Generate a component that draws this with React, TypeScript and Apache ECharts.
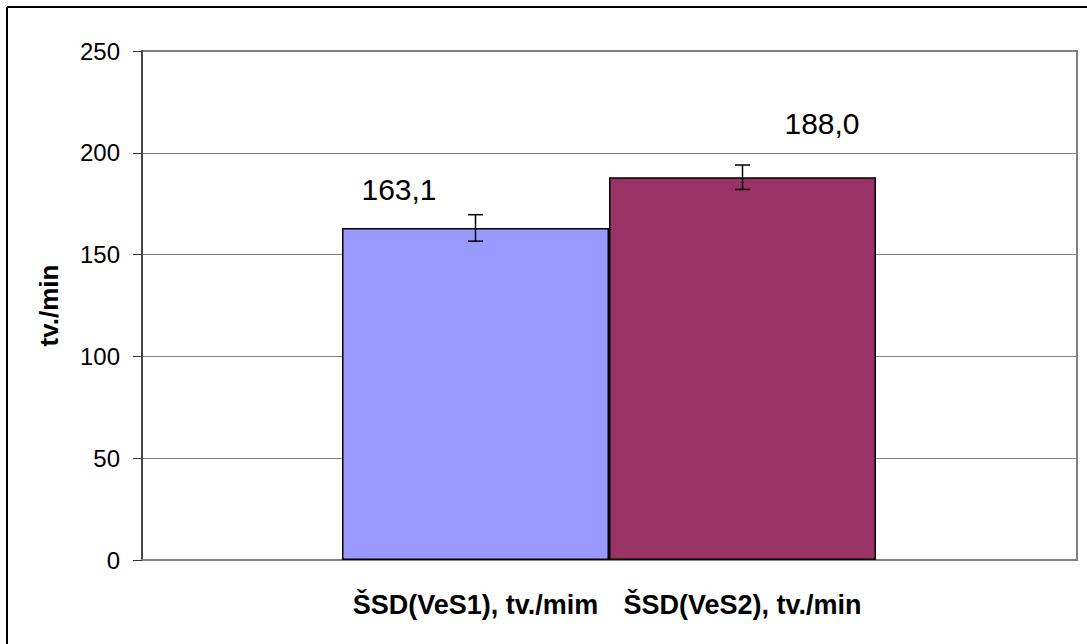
import React, { useEffect, useRef } from "react";
import * as echarts from "echarts";

const categories = ["ŠSD(VeS1), tv./mim", "ŠSD(VeS2), tv./min"];
const means = [163.1, 188.0];
const sds = [6.5, 6.0];
const valueLabels = ["163,1", "188,0"];
const barColors = ["#9999FF", "#993366"];
const labelPositions = [
  [57, -38],
  [213, -54],
];
const yTicks = { min: 0, max: 250, interval: 50 };
const yName = "tv./min";

const FONT = "'Liberation Sans', Arial, sans-serif";

export default function App() {
  const ref = useRef<HTMLDivElement>(null);
  useEffect(() => {
    if (!ref.current) return;
    const chart = echarts.init(ref.current, undefined, { renderer: "svg" });
    const option: any = {
      animation: false,
      backgroundColor: "#ffffff",
      textStyle: { fontFamily: FONT },
      graphic: [
        { type: "line", shape: { x1: 7, y1: 7, x2: 7, y2: 644 }, style: { stroke: "#000", lineWidth: 2 } },
        { type: "line", shape: { x1: 7, y1: 7, x2: 1087, y2: 7 }, style: { stroke: "#000", lineWidth: 2 } },
      ],
      grid: [
        { left: 142, top: 51, width: 935, height: 509, show: true, borderColor: "#808080", borderWidth: 2, backgroundColor: "transparent" },
        { left: 342, top: 51, width: 534, height: 509 },
      ],
      xAxis: [
        {
          gridIndex: 0,
          type: "category",
          data: [""],
          axisLine: { show: true, lineStyle: { color: "#808080", width: 2 } },
          axisTick: { show: false },
          axisLabel: { show: false },
        },
        {
          gridIndex: 1,
          type: "category",
          data: categories,
          axisLine: { show: false },
          axisTick: { show: false },
          axisLabel: {
            show: true,
            interval: 0,
            hideOverlap: false,
            color: "#000",
            fontFamily: FONT,
            fontSize: 27,
            fontWeight: "bold",
            margin: 31,
          },
        },
      ],
      yAxis: [
        {
          gridIndex: 0,
          type: "value",
          min: yTicks.min,
          max: yTicks.max,
          interval: yTicks.interval,
          name: yName,
          nameLocation: "middle",
          nameRotate: 90,
          nameGap: 80,
          nameTextStyle: { color: "#000", fontFamily: FONT, fontSize: 26, fontWeight: "bold" },
          axisLine: { show: true, lineStyle: { color: "#333", width: 1.5 } },
          axisTick: { show: true, length: 9, lineStyle: { color: "#333", width: 1 } },
          axisLabel: { color: "#000", fontFamily: FONT, fontSize: 24, margin: 22 },
          splitLine: { show: true, lineStyle: { color: "#808080", width: 1 } },
        },
        {
          gridIndex: 1,
          type: "value",
          min: yTicks.min,
          max: yTicks.max,
          interval: yTicks.interval,
          show: false,
          splitLine: { show: false },
        },
      ],
      series: [
        {
          type: "bar",
          xAxisIndex: 1,
          yAxisIndex: 1,
          barWidth: "100%",
          barCategoryGap: "0%",
          data: means.map((v, i) => ({
            value: v,
            itemStyle: { color: barColors[i], borderColor: "#000", borderWidth: 1.5 },
            label: {
              show: true,
              position: labelPositions[i],
              align: "center",
              verticalAlign: "middle",
              formatter: valueLabels[i],
              color: "#000",
              fontFamily: FONT,
              fontSize: 30,
            },
          })),
          z: 2,
        },
        {
          type: "custom",
          xAxisIndex: 1,
          yAxisIndex: 1,
          z: 5,
          data: means.map((v, i) => [i, v, sds[i]]),
          renderItem: (params: any, api: any) => {
            const idx = api.value(0);
            const m = api.value(1);
            const sd = api.value(2);
            const hi = api.coord([idx, m + sd]);
            const lo = api.coord([idx, m - sd]);
            const x = hi[0];
            const hw = 7.5;
            const style = { stroke: "#000", lineWidth: 1.5, fill: "none" };
            return {
              type: "group",
              children: [
                { type: "line", shape: { x1: x, y1: hi[1], x2: x, y2: lo[1] }, style },
                { type: "line", shape: { x1: x - hw, y1: hi[1], x2: x + hw, y2: hi[1] }, style },
                { type: "line", shape: { x1: x - hw, y1: lo[1], x2: x + hw, y2: lo[1] }, style },
              ],
            };
          },
        },
      ],
    };
    chart.setOption(option);
    return () => chart.dispose();
  }, []);
  return (
    <div
      ref={ref}
      style={{ position: "fixed", left: 0, top: 0, width: 1087, height: 644, background: "#fff" }}
    />
  );
}
